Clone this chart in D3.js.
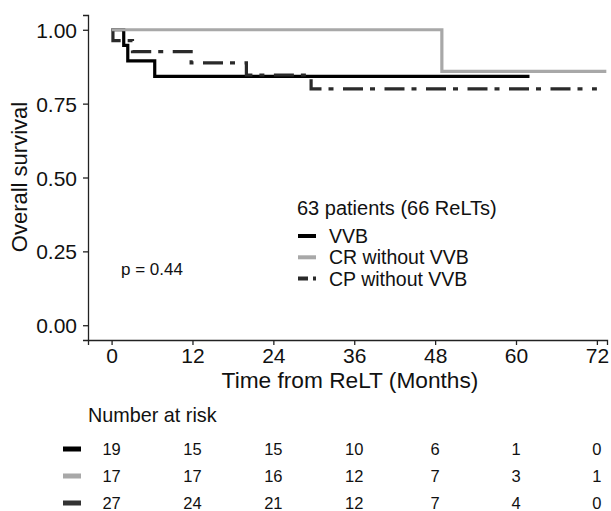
<!DOCTYPE html>
<html>
<head>
<meta charset="utf-8">
<script src="https://cdn.jsdelivr.net/npm/d3@7"></script>
<style>
  body { margin: 0; background: #fff; }
  svg text { font-family: "Liberation Sans", Arial, sans-serif; fill: #111; }
</style>
</head>
<body>
<svg id="chart" width="611" height="511"></svg>
<script>
// data
var groups = ["VVB", "CR without VVB", "CP without VVB"];
var vvbTime = [0, 1.8, 2.4, 6.4, 62];
var vvbSurv = [1, 0.947, 0.895, 0.842, 0.842];
var crTime = [0, 49, 73.4];
var crSurv = [1, 0.859, 0.859];
var cpTime = [0, 0.2, 3.1, 11.8, 20, 29.6, 72];
var cpSurv = [1, 0.963, 0.926, 0.888, 0.847, 0.80, 0.80];
var riskTimes = [0, 12, 24, 36, 48, 60, 72];
var riskVVB = [19, 15, 15, 10, 6, 1, 0];
var riskCR = [17, 17, 16, 12, 7, 3, 1];
var riskCP = [27, 24, 21, 12, 7, 4, 0];
var yTicks = [0, 0.25, 0.5, 0.75, 1];
var pText = "p = 0.44";
var legendTitle = "63 patients (66 ReLTs)";

var colors = ["#000000", "#a8a8a8", "#2a2a2a"];
var keyColors = ["#000000", "#a8a8a8", "#333333"];
var dashes = [null, null, "20,7,5,9.5"];
var keyDashes = [null, null, "10,5,3,5"];

var svg = d3.select("#chart");
var x = d3.scaleLinear().domain([-3.5, 73.5]).range([88, 607]);
var y = d3.scaleLinear().domain([-0.05, 1.05]).range([340, 15]);

var series = [
  {name: groups[0], t: vvbTime, s: vvbSurv, risk: riskVVB},
  {name: groups[1], t: crTime, s: crSurv, risk: riskCR},
  {name: groups[2], t: cpTime, s: cpSurv, risk: riskCP}
];

// axes
var xAxis = svg.append("g")
    .attr("transform", "translate(0,340)")
    .call(d3.axisBottom(x).tickValues(riskTimes).tickSizeOuter(0).tickSize(5).tickPadding(3));
var yAxis = svg.append("g")
    .attr("transform", "translate(88,0)")
    .call(d3.axisLeft(y).tickValues(yTicks).tickFormat(d3.format(".2f")).tickSizeOuter(0).tickSize(5).tickPadding(6));
svg.selectAll(".domain, .tick line").attr("stroke", "#222").attr("stroke-width", 1.3);
xAxis.selectAll("text").attr("font-size", 21).style("fill", "#111");
yAxis.selectAll("text").attr("font-size", 21).style("fill", "#111").attr("dy", "0.36em");

svg.append("text")
    .attr("x", 350).attr("y", 388)
    .attr("text-anchor", "middle").attr("font-size", 22.7)
    .text("Time from ReLT (Months)");
svg.append("text")
    .attr("transform", "translate(27,177) rotate(-90)")
    .attr("text-anchor", "middle").attr("font-size", 22)
    .text("Overall survival");

// curves
var line = d3.line()
    .x(function(d) { return x(d[0]); })
    .y(function(d) { return y(d[1]); })
    .curve(d3.curveStepAfter);

[0, 2, 1].forEach(function(i) {
  var sr = series[i];
  svg.append("path")
      .datum(sr.t.map(function(t, k) { return [t, sr.s[k]]; }))
      .attr("d", line)
      .attr("fill", "none")
      .attr("stroke", colors[i])
      .attr("stroke-width", 3.2)
      .attr("stroke-dasharray", dashes[i]);
});

svg.append("text")
    .attr("x", 121).attr("y", 275)
    .attr("font-size", 17)
    .text(pText);

// legend
var leg = svg.append("g").attr("transform", "translate(297,0)");
leg.append("text").attr("x", 0).attr("y", 215).attr("font-size", 20).text(legendTitle);
series.forEach(function(sr, i) {
  var ly = 236 + i * 21.3;
  leg.append("line")
      .attr("x1", 1).attr("x2", 19).attr("y1", ly).attr("y2", ly)
      .attr("stroke", colors[i]).attr("stroke-width", 4)
      .attr("stroke-dasharray", keyDashes[i]);
  leg.append("text")
      .attr("x", 32).attr("y", ly + 7)
      .attr("font-size", 19.5)
      .text(sr.name);
});

// number at risk table
svg.append("text").attr("x", 88).attr("y", 422).attr("font-size", 19.8).text("Number at risk");
series.forEach(function(sr, i) {
  var ry = 449 + i * 27;
  svg.append("rect")
      .attr("x", 63).attr("y", ry - 2.5).attr("width", 18).attr("height", 5)
      .attr("fill", keyColors[i]);
  svg.selectAll(null)
      .data(sr.risk)
    .enter().append("text")
      .attr("x", function(d, k) { return x(riskTimes[k]); })
      .attr("y", ry + 5.5)
      .attr("text-anchor", "middle")
      .attr("font-size", 16.5)
      .text(function(d) { return d; });
});
</script>
</body>
</html>
